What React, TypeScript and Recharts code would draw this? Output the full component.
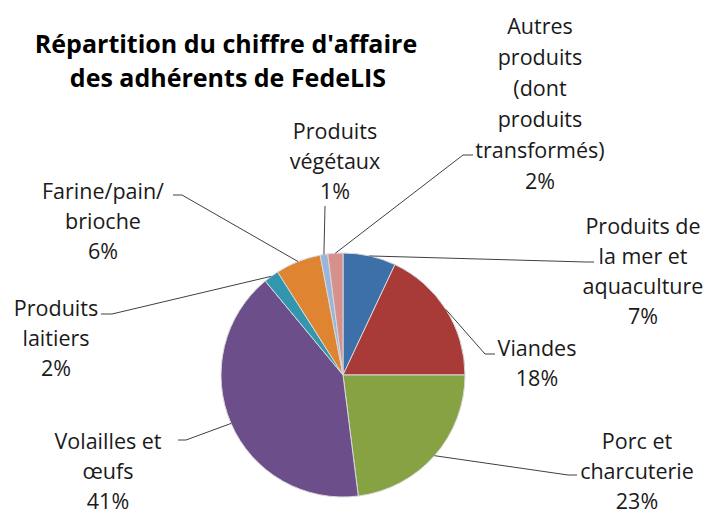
import { PieChart, Pie, Cell } from 'recharts';

const categories = [
  'Produits de la mer et aquaculture',
  'Viandes',
  'Porc et charcuterie',
  'Volailles et œufs',
  'Produits laitiers',
  'Farine/pain/brioche',
  'Produits végétaux',
  'Autres produits (dont produits transformés)',
];

const shares = [7, 18, 23, 41, 2, 6, 1, 2];

const labelLines = [
  ['Produits de', 'la mer et', 'aquaculture'],
  ['Viandes'],
  ['Porc et', 'charcuterie'],
  ['Volailles et', 'œufs'],
  ['Produits', 'laitiers'],
  ['Farine/pain/', 'brioche'],
  ['Produits', 'végétaux'],
  ['Autres', 'produits', '(dont', 'produits', 'transformés)'],
];

const colors = ['#3D6FA8', '#A83B38', '#86A242', '#6B4E8A', '#3297AE', '#DF8430', '#9AB4DA', '#D6918F'];

// label placement: text centre x, first line y, leader elbow and end
const labelLayout = [
  { x: 643, y: 225, elbow: [586, 262], end: [594, 262] },
  { x: 537, y: 347, elbow: [485, 354], end: [495, 354] },
  { x: 637, y: 440, elbow: [568, 475], end: [577, 475] },
  { x: 108, y: 440, elbow: [186, 440], end: [178, 440] },
  { x: 56, y: 307, elbow: [112, 314], end: [101, 314] },
  { x: 103, y: 190, elbow: [182, 195], end: [173, 195] },
  { x: 335, y: 130, elbow: [325, 206], end: [325, 206] },
  { x: 540, y: 25, elbow: [463, 155], end: [473, 155] },
];

const data = categories.map((name, i) => ({ name, value: shares[i] }));

const FONT = '"Open Sans", "Noto Sans", sans-serif';
const LINE_H = 30;
const RAD = Math.PI / 180;

const renderLabel = (props: any) => {
  const { cx, cy, midAngle, outerRadius, index, value } = props;
  const lay = labelLayout[index];
  const sx = cx + outerRadius * Math.cos(-midAngle * RAD);
  const sy = cy + outerRadius * Math.sin(-midAngle * RAD);
  const lines = [...labelLines[index], `${value}%`];
  return (
    <g key={`lbl-${index}`}>
      <polyline
        points={`${sx},${sy} ${lay.elbow[0]},${lay.elbow[1]} ${lay.end[0]},${lay.end[1]}`}
        fill="none"
        stroke="#404040"
        strokeWidth={1}
      />
      {lines.map((t, j) => (
        <text
          key={j}
          x={lay.x}
          y={lay.y + j * (index === 7 ? 31 : LINE_H)}
          textAnchor="middle"
          dominantBaseline="central"
          fontFamily={FONT}
          fontSize={21.5}
          fill="#1a1a1a"
        >
          {t}
        </text>
      ))}
    </g>
  );
};

export default function App() {
  return (
    <div style={{ position: 'absolute', left: 0, top: 0, width: 708, height: 513, background: '#fff' }}>
      <PieChart width={708} height={513} margin={{ top: 0, right: 0, bottom: 0, left: 0 }}>
        <text x={226} y={43} textAnchor="middle" dominantBaseline="central" fontFamily={FONT} fontWeight={700} fontSize={25} fill="#000">
          Répartition du chiffre d'affaire
        </text>
        <text x={228} y={77} textAnchor="middle" dominantBaseline="central" fontFamily={FONT} fontWeight={700} fontSize={25} fill="#000">
          des adhérents de FedeLIS
        </text>
        <Pie
          data={data}
          dataKey="value"
          nameKey="name"
          cx={343}
          cy={375}
          outerRadius={122}
          startAngle={90}
          endAngle={-270}
          stroke="#d8d8d8"
          strokeWidth={1}
          label={renderLabel}
          labelLine={false}
          isAnimationActive={false}
        >
          {data.map((d, i) => (
            <Cell key={d.name} fill={colors[i]} />
          ))}
        </Pie>
      </PieChart>
    </div>
  );
}
